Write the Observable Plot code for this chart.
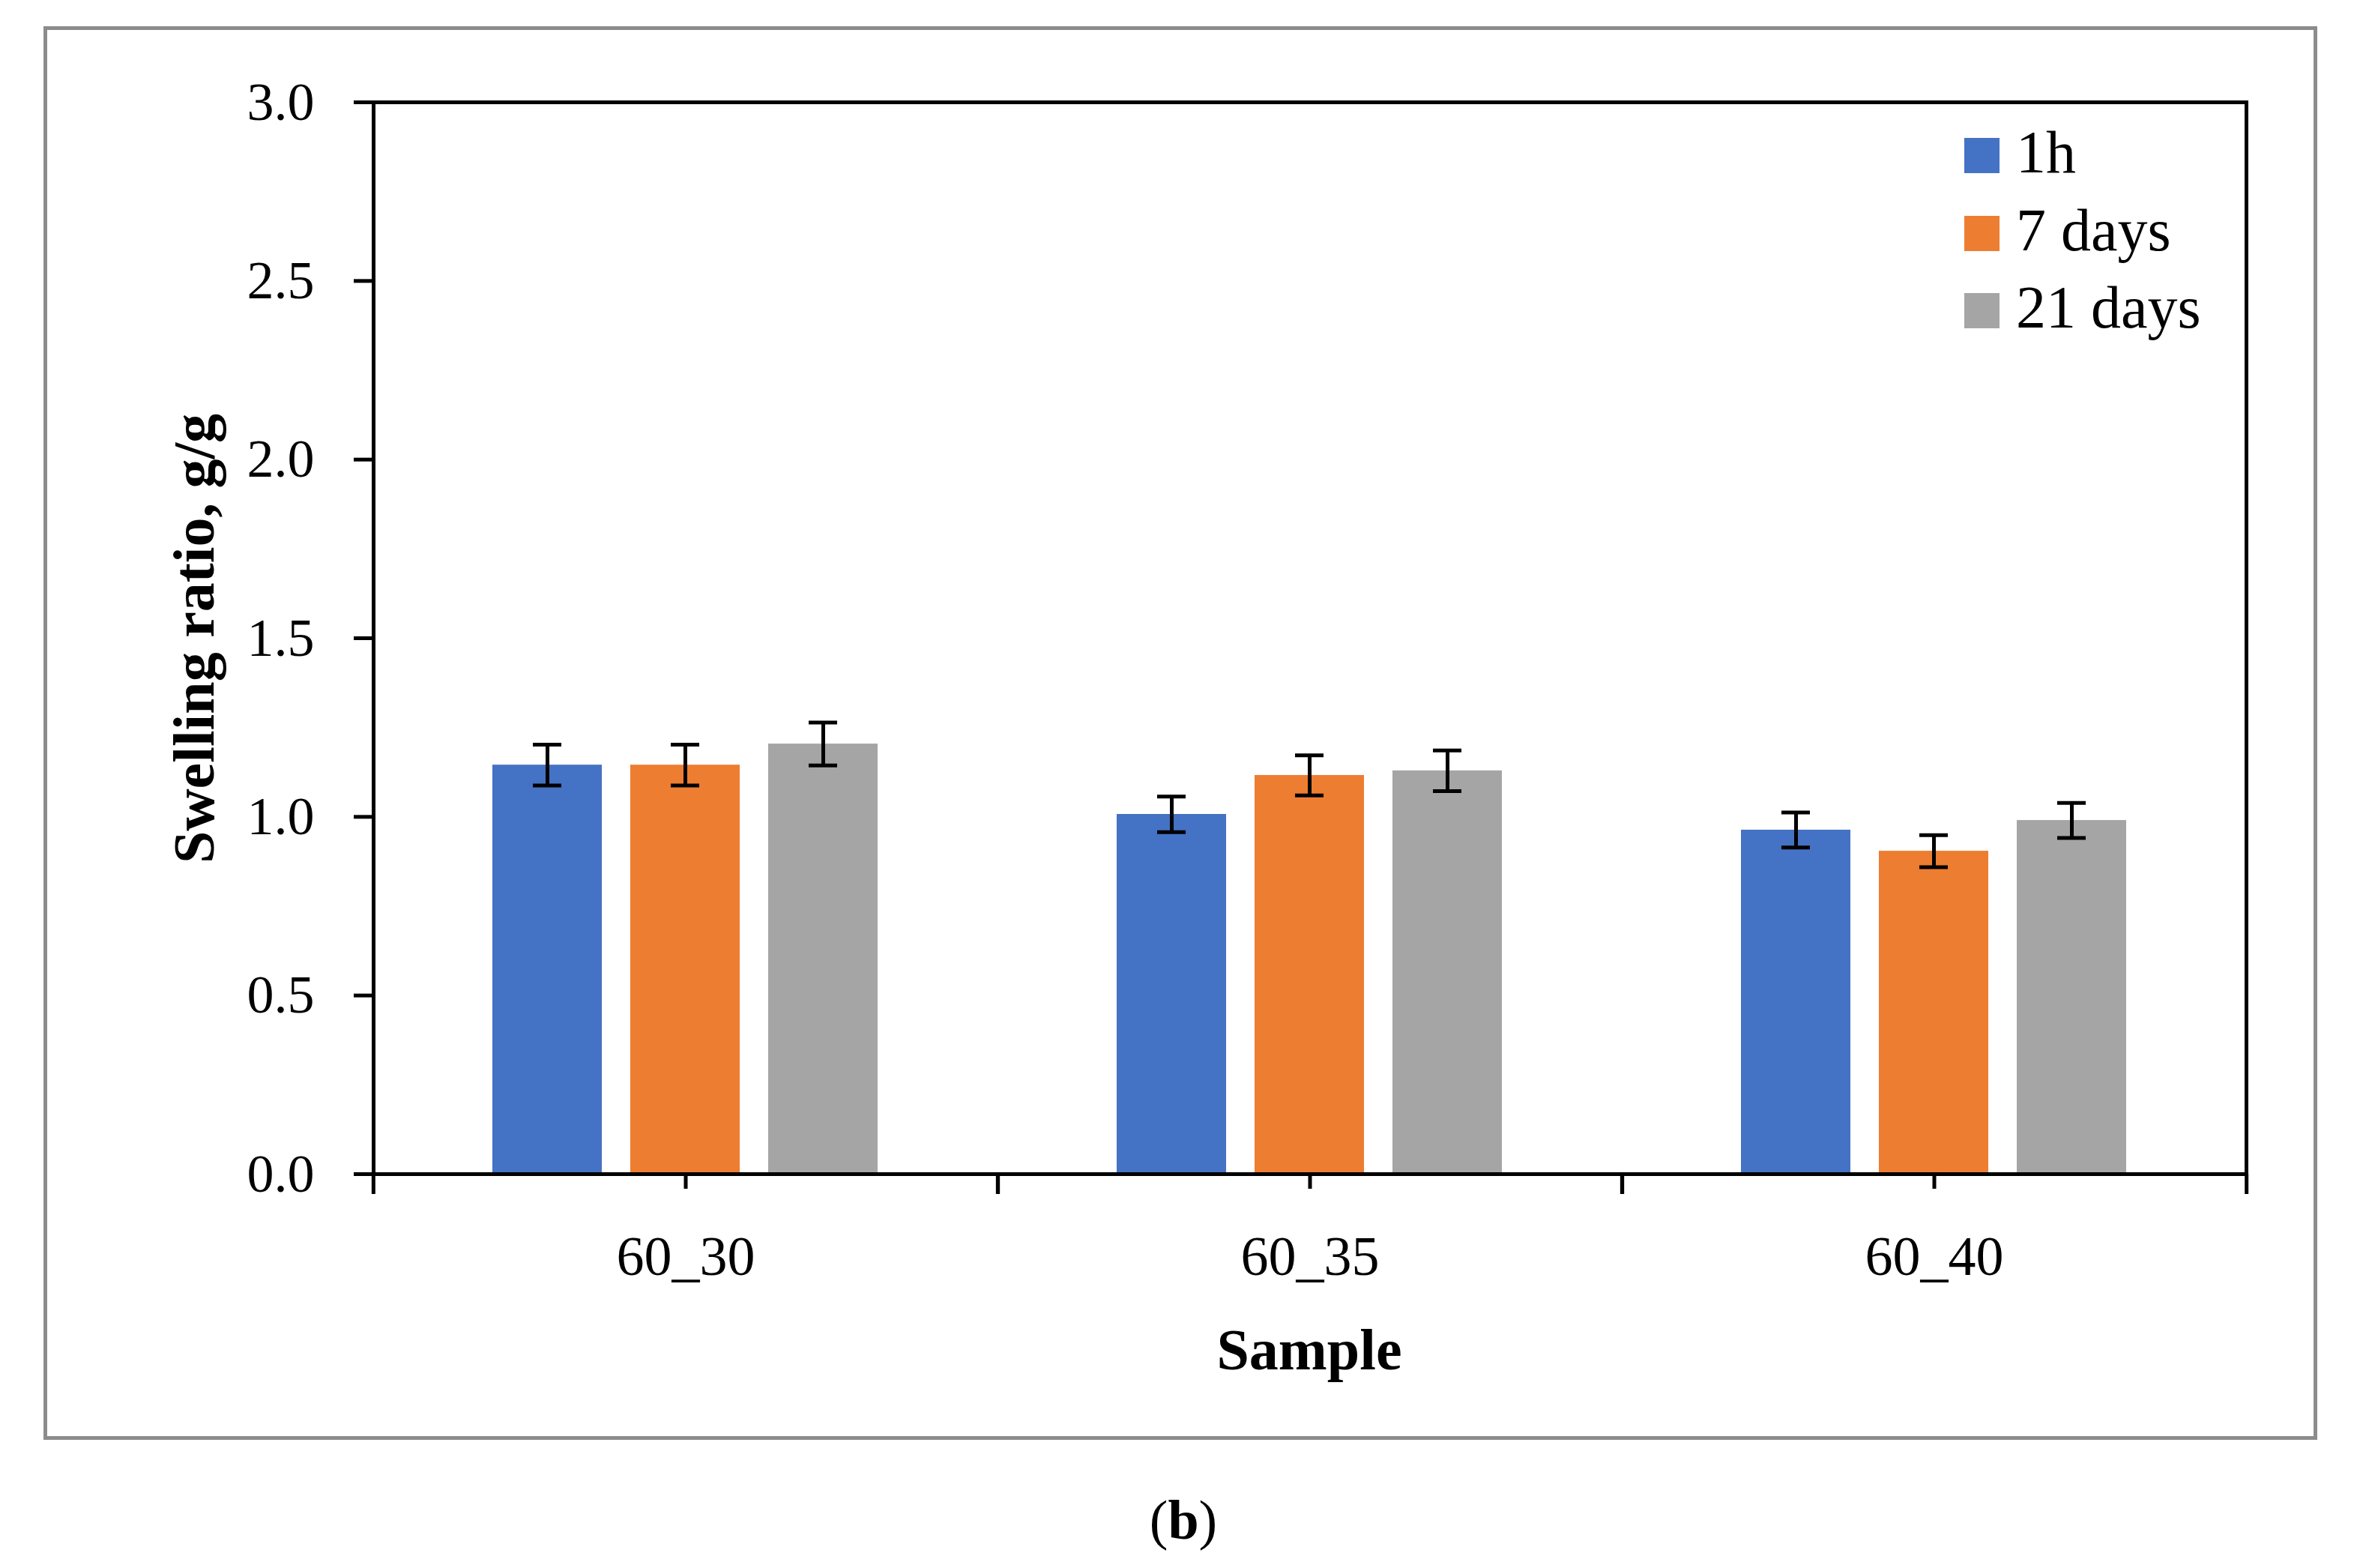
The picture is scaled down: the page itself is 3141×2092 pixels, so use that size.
<!DOCTYPE html>
<html>
<head>
<meta charset="utf-8">
<script src="https://cdn.jsdelivr.net/npm/d3@7"></script>
<script src="https://cdn.jsdelivr.net/npm/@observablehq/plot@0.6"></script>
<style>
  html, body { margin: 0; padding: 0; background: #fff; }
  #wrap { position: relative; width: 3141px; height: 2092px; background: #fff; font-family: "Liberation Serif", "Times New Roman", serif; color: #000; }
  #border { position: absolute; left: 58px; top: 35px; width: 3024px; height: 1876px; border: 5px solid #8c8c8c; }
  #chart svg { position: absolute; left: 0; top: 0; }
  .lab { position: absolute; white-space: nowrap; line-height: 1; }
  .sw { position: absolute; width: 47px; height: 47px; }
</style>
</head>
<body>
<div id="wrap">
  <div id="border"></div>
  <div id="chart"></div>
</div>
<script>
// ---- data ----
const samples = ["60_30", "60_35", "60_40"];
const series = ["1h", "7 days", "21 days"];
const seriesColors = ["#4472C4", "#ED7D31", "#A5A5A5"];
const mean1h = [1.145, 1.007, 0.963];
const mean7d = [1.145, 1.116, 0.904];
const mean21d = [1.204, 1.129, 0.990];
const err1h = [0.057, 0.050, 0.049];
const err7d = [0.057, 0.056, 0.045];
const err21d = [0.060, 0.057, 0.049];
const yTicks = [0, 0.5, 1.0, 1.5, 2.0, 2.5, 3.0];
const xTitle = "Sample";
const yTitle = "Swelling ratio, g/g";

const means = [mean1h, mean7d, mean21d];
const errs = [err1h, err7d, err21d];
const rows = samples.flatMap((s, i) => series.map((k, j) => ({
  sample: s, series: k, value: means[j][i], err: errs[j][i]
})));

// ---- layout ----
const W = 3141, H = 1700;
const mL = 497, mR = 144, mT = 136, mB = 134;
const facetW = (W - mL - mR) / samples.length;

const chart = Plot.plot({
  width: W, height: H,
  marginLeft: mL, marginRight: mR, marginTop: mT, marginBottom: mB,
  style: { fontFamily: '"Liberation Serif", "Times New Roman", serif', fontSize: "72px", color: "#000", background: "transparent", overflow: "visible" },
  fx: { domain: samples, padding: 0, axis: null, label: null },
  x: { domain: series, paddingInner: 0.2065, paddingOuter: 0.862, axis: null },
  y: { domain: [0, 3], axis: null },
  color: { domain: series, range: seriesColors },
  marks: [
    Plot.barY(rows, { fx: "sample", x: "series", y: "value", fill: "series" }),
    Plot.ruleX(rows, { fx: "sample", x: "series", y1: d => d.value - d.err, y2: d => d.value + d.err, stroke: "#000", strokeWidth: 5 }),
    Plot.tickY(rows, { fx: "sample", x: "series", y: d => d.value + d.err, stroke: "#000", strokeWidth: 5, insetLeft: 54, insetRight: 54 }),
    Plot.tickY(rows, { fx: "sample", x: "series", y: d => d.value - d.err, stroke: "#000", strokeWidth: 5, insetLeft: 54, insetRight: 54 }),
    Plot.frame({ facet: "super", stroke: "#000", strokeWidth: 5 }),
    Plot.axisY({ ticks: yTicks, tickFormat: d => d.toFixed(1), tickSize: 26, tickPadding: 53, fontSize: 72, strokeWidth: 5, label: null }),
    Plot.axisFx({ anchor: "bottom", tickSize: 20, tickPadding: 62, fontSize: 74, strokeWidth: 5, label: null }),
    Plot.axisFx({ anchor: "bottom", tickSize: 27, strokeWidth: 5, tickFormat: () => "", dx: -facetW / 2, label: null }),
    Plot.axisFx({ anchor: "bottom", tickSize: 27, strokeWidth: 5, tickFormat: () => "", dx: facetW / 2, label: null })
  ]
});
document.getElementById("chart").appendChild(chart);

// ---- titles, legend, caption ----
const wrap = document.getElementById("wrap");
function addLabel(html, css) {
  const d = document.createElement("div");
  d.className = "lab";
  d.innerHTML = html;
  Object.assign(d.style, css);
  wrap.appendChild(d);
  return d;
}
addLabel(xTitle, { left: "1747px", top: "1762px", transform: "translateX(-50%)", fontSize: "78px", fontWeight: "bold" });
addLabel(yTitle, { left: "259px", top: "852px", transform: "translate(-50%,-50%) rotate(-90deg)", fontSize: "78px", fontWeight: "bold" });
addLabel("(<b>b</b>)", { left: "1579px", top: "1991px", transform: "translateX(-50%)", fontSize: "74px" });

series.forEach((s, i) => {
  const sw = document.createElement("div");
  sw.className = "sw";
  sw.style.left = "2621px";
  sw.style.top = (184 + i * 103.5) + "px";
  sw.style.background = seriesColors[i];
  wrap.appendChild(sw);
  addLabel(s, { left: "2690px", top: (163 + i * 103.5) + "px", fontSize: "80px" });
});
</script>
</body>
</html>
